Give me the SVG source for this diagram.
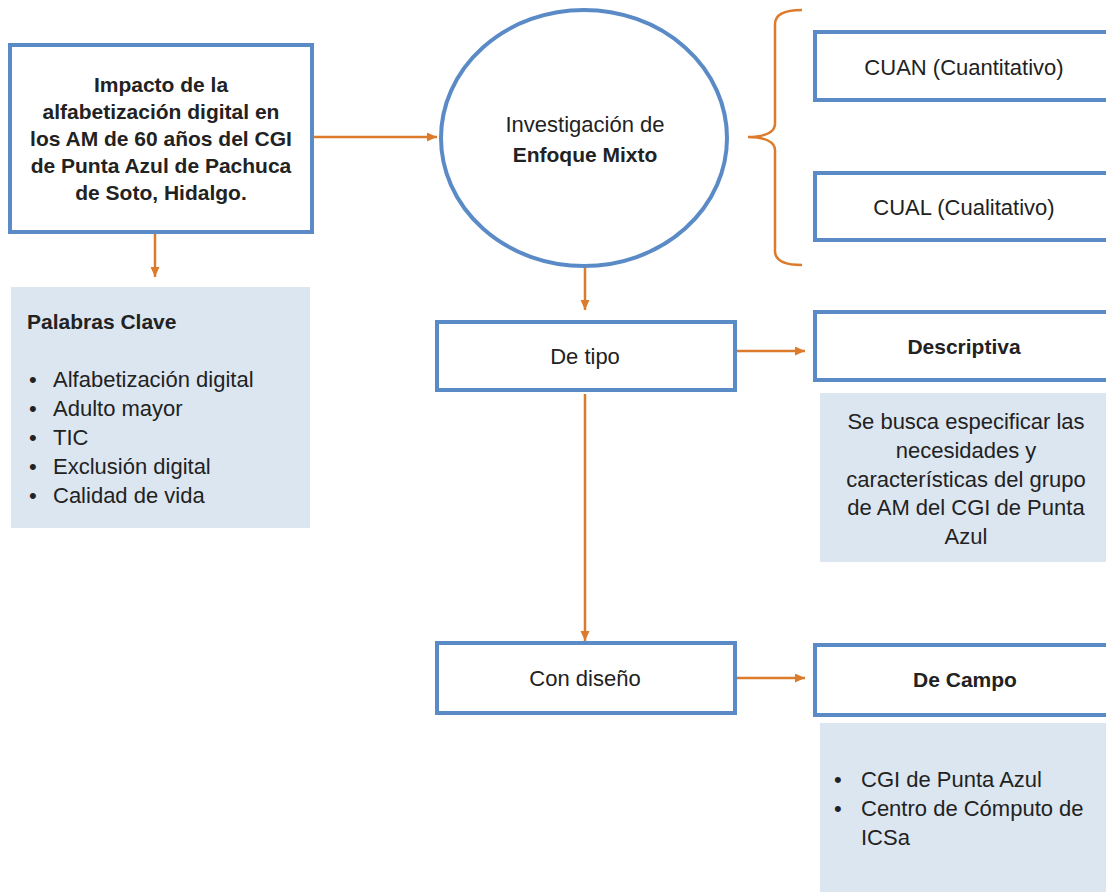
<svg xmlns="http://www.w3.org/2000/svg" width="1106" height="892" viewBox="0 0 1106 892">
<style>
.box{fill:#fff;stroke:#5b8bc7;stroke-width:4}
.note{fill:#dce6f1}
.con{stroke:#dd7b2c;stroke-width:2.5;fill:none}
text{font-family:"Liberation Sans",Arial,sans-serif;font-size:22px;fill:#222}
.b{font-weight:bold;font-size:21px}
.c{text-anchor:middle}
</style>
<defs>
<marker id="ah" markerUnits="userSpaceOnUse" markerWidth="12" markerHeight="10" refX="10" refY="4.5" orient="auto">
<path d="M0,0 L10,4.5 L0,9 z" fill="#dd7b2c"/>
</marker>
</defs>
<rect width="1106" height="892" fill="#fff"/>
<g id="connectors">
<line class="con" x1="312" y1="137" x2="437" y2="137" marker-end="url(#ah)"/>
<line class="con" x1="155" y1="232" x2="155" y2="277" marker-end="url(#ah)"/>
<line class="con" x1="585" y1="266" x2="585" y2="310" marker-end="url(#ah)"/>
<line class="con" x1="585" y1="394" x2="585" y2="641" marker-end="url(#ah)"/>
<line class="con" x1="735" y1="351" x2="805" y2="351" marker-end="url(#ah)"/>
<line class="con" x1="735" y1="678" x2="805" y2="678" marker-end="url(#ah)"/>
<path class="con" d="M802,10 C785,10 775,14 775,24 L775,124 C775,132 765,137 748,137 C765,137 775,142 775,150 L775,251 C775,261 785,265 802,265"/>
</g>
<g id="main">
<rect class="box" x="10" y="45" width="302" height="187"/>
<text class="b c" x="161" y="92">Impacto de la</text>
<text class="b c" x="161" y="119">alfabetización digital en</text>
<text class="b c" x="161" y="146">los AM de 60 años del CGI</text>
<text class="b c" x="161" y="173">de Punta Azul de Pachuca</text>
<text class="b c" x="161" y="200">de Soto, Hidalgo.</text>
</g>
<g id="palabras">
<rect class="note" x="11" y="287" width="299" height="241"/>
<text class="b" x="27" y="329">Palabras Clave</text>
<text x="29" y="387">•</text><text x="53" y="387">Alfabetización digital</text>
<text x="29" y="416">•</text><text x="53" y="416">Adulto mayor</text>
<text x="29" y="445">•</text><text x="53" y="445">TIC</text>
<text x="29" y="474">•</text><text x="53" y="474">Exclusión digital</text>
<text x="29" y="503">•</text><text x="53" y="503">Calidad de vida</text>
</g>
<g id="enfoque">
<ellipse class="box" cx="584" cy="138" rx="143" ry="128"/>
<text class="c" x="585" y="132">Investigación de</text>
<text class="b c" x="585" y="162">Enfoque Mixto</text>
</g>
<g id="cuan">
<rect class="box" x="815" y="32" width="300" height="68"/>
<text class="c" x="964" y="75">CUAN (Cuantitativo)</text>
</g>
<g id="cual">
<rect class="box" x="815" y="173" width="300" height="67"/>
<text class="c" x="964" y="215">CUAL (Cualitativo)</text>
</g>
<g id="detipo">
<rect class="box" x="437" y="322" width="298" height="68"/>
<text class="c" x="585" y="364">De tipo</text>
</g>
<g id="descriptiva">
<rect class="box" x="815" y="312" width="300" height="68"/>
<text class="b c" x="964" y="354">Descriptiva</text>
</g>
<g id="descriptiva-nota">
<rect class="note" x="820" y="393" width="290" height="169"/>
<text class="c" x="966" y="429">Se busca especificar las</text>
<text class="c" x="966" y="458">necesidades y</text>
<text class="c" x="966" y="487">características del grupo</text>
<text class="c" x="966" y="515">de AM del CGI de Punta</text>
<text class="c" x="966" y="544">Azul</text>
</g>
<g id="condiseno">
<rect class="box" x="437" y="643" width="298" height="70"/>
<text class="c" x="585" y="686">Con diseño</text>
</g>
<g id="decampo">
<rect class="box" x="815" y="645" width="300" height="70"/>
<text class="b c" x="965" y="687">De Campo</text>
</g>
<g id="decampo-nota">
<rect class="note" x="820" y="723" width="290" height="172"/>
<text x="834" y="787">•</text><text x="861" y="787">CGI de Punta Azul</text>
<text x="834" y="816">•</text><text x="861" y="816">Centro de Cómputo de</text>
<text x="861" y="845">ICSa</text>
</g>
</svg>
